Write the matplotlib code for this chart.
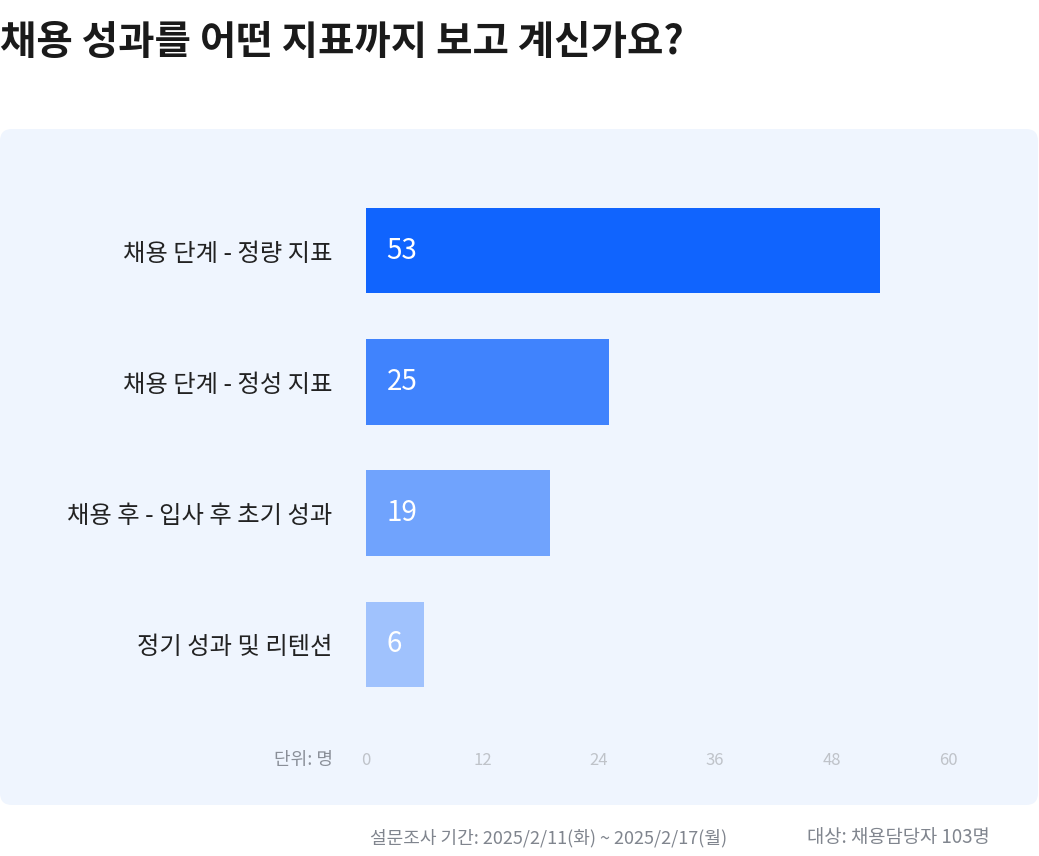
import matplotlib.pyplot as plt
from matplotlib.patches import FancyBboxPatch

plt.rcParams['font.family'] = ['Noto Sans CJK KR', 'DejaVu Sans']

# data
categories = ['채용 단계 - 정량 지표', '채용 단계 - 정성 지표', '채용 후 - 입사 후 초기 성과', '정기 성과 및 리텐션']
values = [53, 25, 19, 6]
bar_colors = ['#1064FE', '#4083FD', '#70A3FD', '#A0C2FD']
xticks = [0, 12, 24, 36, 48, 60]

W, H = 1039, 856
fig = plt.figure(figsize=(W / 100, H / 100), dpi=100)
fig.patch.set_facecolor('white')

# background layer in pixel coords
bg = fig.add_axes([0, 0, 1, 1])
bg.set_xlim(0, W)
bg.set_ylim(H, 0)
bg.axis('off')
panel = FancyBboxPatch((0, 129), 1038, 676, boxstyle='round,pad=0,rounding_size=12',
                       facecolor='#EFF5FE', edgecolor='none')
bg.add_patch(panel)

bg.text(0, 42, '채용 성과를 어떤 지표까지 보고 계신가요?', fontsize=28.5, fontweight='bold',
        color='#1A1A1A', ha='left', va='center')
bg.text(333, 760, '단위: 명', fontsize=13, color='#8A8F98', ha='right', va='center')
bg.text(370, 838, '설문조사 기간: 2025/2/11(화) ~ 2025/2/17(월)', fontsize=13,
        color='#80858E', ha='left', va='center')
bg.text(990, 838, '대상: 채용담당자 103명', fontsize=13.5,
        color='#80858E', ha='right', va='center')

# chart
ax = fig.add_axes([366 / W, (H - 710) / H, 582 / W, 525 / H])
ax.patch.set_alpha(0)
ypos = list(range(len(categories)))
ax.barh(ypos, values, height=0.65, color=bar_colors)
ax.set_xlim(0, 60)
ax.set_ylim(len(categories) - 0.5, -0.5)
ax.set_yticks(ypos)
ax.set_yticklabels(categories, fontsize=17.5, color='#222222')
ax.set_xticks(xticks)
ax.set_xticklabels([str(t) for t in xticks], fontsize=12, color='#BFC3C9')
ax.tick_params(axis='y', length=0, pad=24)
ax.tick_params(axis='x', length=0, pad=30)
for s in ax.spines.values():
    s.set_visible(False)

for y, v in zip(ypos, values):
    ax.text(2.1, y, str(v), color='white', fontsize=20, fontweight='medium',
            ha='left', va='center')

fig.savefig('out.png', dpi=100, facecolor='white')
